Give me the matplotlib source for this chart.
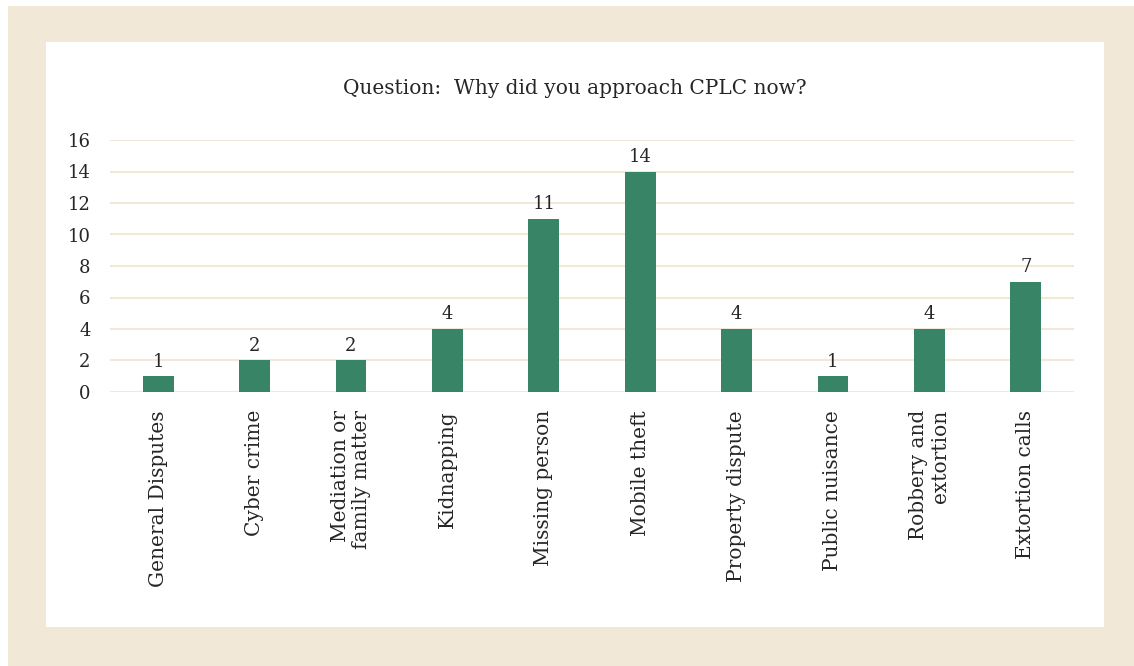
import matplotlib

matplotlib.use("Agg")
import matplotlib.pyplot as plt
from matplotlib.patches import Rectangle

categories = [
    "General Disputes",
    "Cyber crime",
    "Mediation or\nfamily matter",
    "Kidnapping",
    "Missing person",
    "Mobile theft",
    "Property dispute",
    "Public nuisance",
    "Robbery and\nextortion",
    "Extortion calls",
]
counts = [1, 2, 2, 4, 11, 14, 4, 1, 4, 7]
yticks = [0, 2, 4, 6, 8, 10, 12, 14, 16]

BEIGE = "#F2E8D7"
GREEN = "#378466"
TEXT = "#262626"

plt.rcParams["font.family"] = ["DejaVu Serif"]

fig = plt.figure(figsize=(11.34, 6.66), dpi=100)
W, H = 1134, 666

# beige frame and white panel (behind the axes)
fig.patches.append(Rectangle((8 / W, 0), 1 - 8 / W, 1 - 6 / H, transform=fig.transFigure,
                             facecolor=BEIGE, edgecolor="none", zorder=-2))
fig.patches.append(Rectangle((46 / W, 1 - 627 / H), (1104 - 46) / W, (627 - 42) / H,
                             transform=fig.transFigure, facecolor="white", edgecolor="none", zorder=-1))

ax = fig.add_axes([110 / W, 1 - 392 / H, (1074 - 110) / W, (392 - 140) / H])
ax.set_facecolor("none")
x = range(len(categories))
ax.bar(x, counts, width=0.32, color=GREEN, zorder=3)
for i, v in zip(x, counts):
    ax.text(i, v + 0.35, str(v), ha="center", va="bottom", fontsize=13, color=TEXT)

ax.set_ylim(0, 16)
ax.set_xlim(-0.5, len(categories) - 0.5)
ax.set_yticks(yticks)
ax.set_xticks(list(x))
ax.set_xticklabels(categories, rotation=90, va="top", ha="center", fontsize=14.5, color=TEXT,
                   linespacing=1.15, multialignment="right")
ax.tick_params(axis="y", labelsize=13, labelcolor=TEXT, length=0, pad=14)
ax.tick_params(axis="x", length=0, pad=13)
ax.grid(axis="y", color=BEIGE, linewidth=1.5, zorder=0)
for s in ax.spines.values():
    s.set_visible(False)

fig.text(575 / W, 1 - 89 / H, "Question:  Why did you approach CPLC now?", ha="center", va="center",
         fontsize=14.5, color=TEXT)

fig.savefig("out.png", dpi=100)
